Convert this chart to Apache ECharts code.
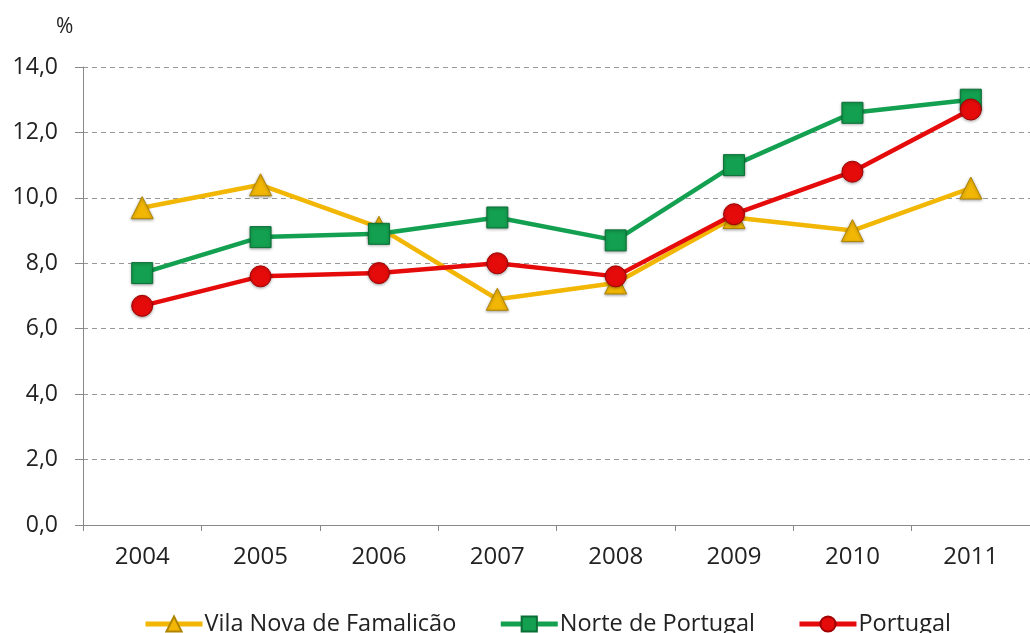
<!DOCTYPE html>
<html>
<head>
<meta charset="utf-8">
<script src="https://cdn.jsdelivr.net/npm/echarts@6/dist/echarts.min.js"></script>
<style>
  html, body { margin: 0; padding: 0; background: #fff; }
  #chart { width: 1030px; height: 633px; }
</style>
</head>
<body>
<div id="chart"></div>
<script>
// Years on the category axis
const years = ['2004', '2005', '2006', '2007', '2008', '2009', '2010', '2011'];
// Rates (%) per territory
const vilaNova = [9.7, 10.4, 9.1, 6.9, 7.4, 9.4, 9.0, 10.3];
const norte = [7.7, 8.8, 8.9, 9.4, 8.7, 11.0, 12.6, 13.0];
const portugal = [6.7, 7.6, 7.7, 8.0, 7.6, 9.5, 10.8, 12.7];
const seriesNames = ['Vila Nova de Famalicão', 'Norte de Portugal', 'Portugal'];

const font = 'Open Sans, Noto Sans, sans-serif';

function line(name, data, color, symbol, size, edge) {
  return {
    name: name,
    type: 'line',
    data: data,
    symbol: symbol,
    symbolSize: size,
    lineStyle: { color: color, width: 4.5 },
    itemStyle: {
      color: color,
      borderColor: edge,
      borderWidth: 1,
      shadowColor: 'rgba(0,0,0,0.35)',
      shadowBlur: 3,
      shadowOffsetY: 1
    },
    emphasis: { disabled: true },
    animation: false
  };
}

const chart = echarts.init(document.getElementById('chart'));
chart.setOption({
  backgroundColor: '#ffffff',
  grid: { left: 83, right: -13, top: 67, bottom: 108, containLabel: false },
  graphic: [{
    type: 'text', left: 56, top: 17,
    style: { text: '%', font: '21px ' + font, fill: '#222' }
  }],
  legend: {
    bottom: -8,
    left: 138,
    width: 885,
    itemGap: 42,
    itemWidth: 57,
    itemHeight: 19,
    lineStyle: { width: 5 },
    textStyle: { fontFamily: font, fontSize: 23.5, color: '#222', padding: [0, 0, 0, -3] },
    data: seriesNames
  },
  xAxis: {
    type: 'category',
    data: years,
    boundaryGap: true,
    axisLine: { lineStyle: { color: '#888', width: 1 } },
    axisTick: { show: true, length: 6, lineStyle: { color: '#888' } },
    axisLabel: { fontFamily: font, fontSize: 24, color: '#222', margin: 20 }
  },
  yAxis: {
    type: 'value',
    min: 0, max: 14, interval: 2,
    axisLine: { show: true, lineStyle: { color: '#888', width: 1 } },
    axisTick: { show: true, length: 8, lineStyle: { color: '#888' } },
    axisLabel: {
      fontFamily: font, fontSize: 23, color: '#222', margin: 25,
      formatter: v => v.toFixed(1).replace('.', ',')
    },
    splitLine: { lineStyle: { color: '#999', type: [5, 4], width: 1 } }
  },
  series: [
    line(seriesNames[0], vilaNova, '#F2B705', 'triangle', 22, '#B08400'),
    line(seriesNames[1], norte, '#13A050', 'rect', 21, '#0B6E35'),
    line(seriesNames[2], portugal, '#E60B0B', 'circle', 21, '#A00000')
  ]
});
</script>
</body>
</html>
